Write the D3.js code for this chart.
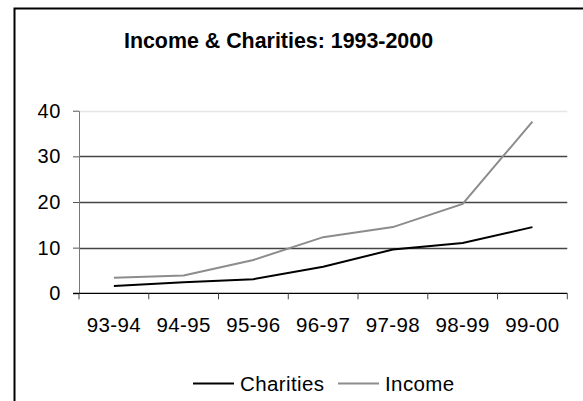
<!DOCTYPE html>
<html>
<head>
<meta charset="utf-8">
<script src="https://cdn.jsdelivr.net/npm/d3@7"></script>
<style>
  body { margin: 0; background: #fff; }
  svg { display: block; font-family: Arial, "Liberation Sans", sans-serif; }
</style>
</head>
<body>
<svg id="chart" width="583" height="401"></svg>
<script>
// Chart data
const periods = ['93-94', '94-95', '95-96', '96-97', '97-98', '98-99', '99-00'];
const charities = [1.6, 2.4, 3.1, 5.8, 9.6, 11.0, 14.5];
const income = [3.4, 3.9, 7.3, 12.3, 14.5, 19.6, 37.6];
const yTicks = [0, 10, 20, 30, 40];

const svg = d3.select('#chart');
const FONT = 'Arial, "Liberation Sans", sans-serif';

// Plot area
const plotLeft = 79, plotRight = 567.3, plotTop = 110.7, plotBottom = 293.3;

const x = d3.scaleBand().domain(periods).range([plotLeft, plotRight]);
const y = d3.scaleLinear().domain([0, 40]).range([plotBottom, plotTop]);

// Outer frame (runs off the right and bottom edges)
svg.append('path')
    .attr('d', 'M14.5,401 L14.5,8.5 L583,8.5')
    .attr('fill', 'none')
    .attr('stroke', '#000')
    .attr('stroke-width', 2);

// Title
svg.append('text')
    .attr('x', 278.5)
    .attr('y', 48)
    .attr('text-anchor', 'middle')
    .attr('font-size', 21.4)
    .attr('font-weight', 'bold')
    .text('Income & Charities: 1993-2000');

// Grid lines
svg.append('g')
    .selectAll('line')
    .data(yTicks.filter(d => d > 0))
    .enter()
    .append('line')
    .attr('x1', plotLeft)
    .attr('x2', plotRight)
    .attr('y1', d => Math.round(y(d)) + 0.5)
    .attr('y2', d => Math.round(y(d)) + 0.5)
    .attr('stroke', d => d === 40 ? '#e6e6e6' : '#444')
    .attr('stroke-width', 1.3);

// Y axis
const yAxis = svg.append('g')
    .attr('transform', `translate(${plotLeft},0)`)
    .call(d3.axisLeft(y).tickValues(yTicks).tickSize(6).tickPadding(12).tickSizeOuter(0));
yAxis.select('.domain').attr('stroke', '#777');
yAxis.selectAll('.tick line').attr('stroke', '#555');
yAxis.selectAll('text')
    .attr('font-size', 20)
    .attr('letter-spacing', 0.6)
    .attr('fill', '#000')
    .attr('font-family', FONT);

// X axis
const xAxis = svg.append('g')
    .attr('transform', `translate(0,${plotBottom})`)
    .call(d3.axisBottom(x).tickSize(0).tickPadding(24));
xAxis.select('.domain').remove();
xAxis.selectAll('text')
    .attr('font-size', 20.5)
    .attr('letter-spacing', 0.4)
    .attr('fill', '#000')
    .attr('font-family', FONT);

svg.append('line')
    .attr('x1', plotLeft - 6).attr('x2', plotRight)
    .attr('y1', plotBottom).attr('y2', plotBottom)
    .attr('stroke', '#000').attr('stroke-width', 1.3);

// Category separators on the x axis
const edges = periods.map(p => x(p)).concat([plotRight]);
svg.append('g')
    .selectAll('line')
    .data(edges)
    .enter()
    .append('line')
    .attr('x1', d => d).attr('x2', d => d)
    .attr('y1', plotBottom).attr('y2', plotBottom + 6)
    .attr('stroke', '#444');

// Series lines
const line = d3.line()
    .x((d, i) => x(periods[i]) + x.bandwidth() / 2)
    .y(d => y(d));

svg.append('path')
    .datum(income)
    .attr('d', line)
    .attr('fill', 'none')
    .attr('stroke', '#8c8c8c')
    .attr('stroke-width', 2);

svg.append('path')
    .datum(charities)
    .attr('d', line)
    .attr('fill', 'none')
    .attr('stroke', '#000')
    .attr('stroke-width', 2);

// Legend
const legend = [
    { name: 'Charities', color: '#000', x: 193 },
    { name: 'Income', color: '#8c8c8c', x: 338 }
];
const lg = svg.append('g').selectAll('g').data(legend).enter().append('g');
lg.append('line')
    .attr('x1', d => d.x).attr('x2', d => d.x + 41)
    .attr('y1', 383.5).attr('y2', 383.5)
    .attr('stroke', d => d.color)
    .attr('stroke-width', 2);
lg.append('text')
    .attr('x', d => d.x + 47)
    .attr('y', 390.5)
    .attr('font-size', 20.5)
    .attr('letter-spacing', 0.4)
    .attr('font-family', FONT)
    .text(d => d.name);
</script>
</body>
</html>
